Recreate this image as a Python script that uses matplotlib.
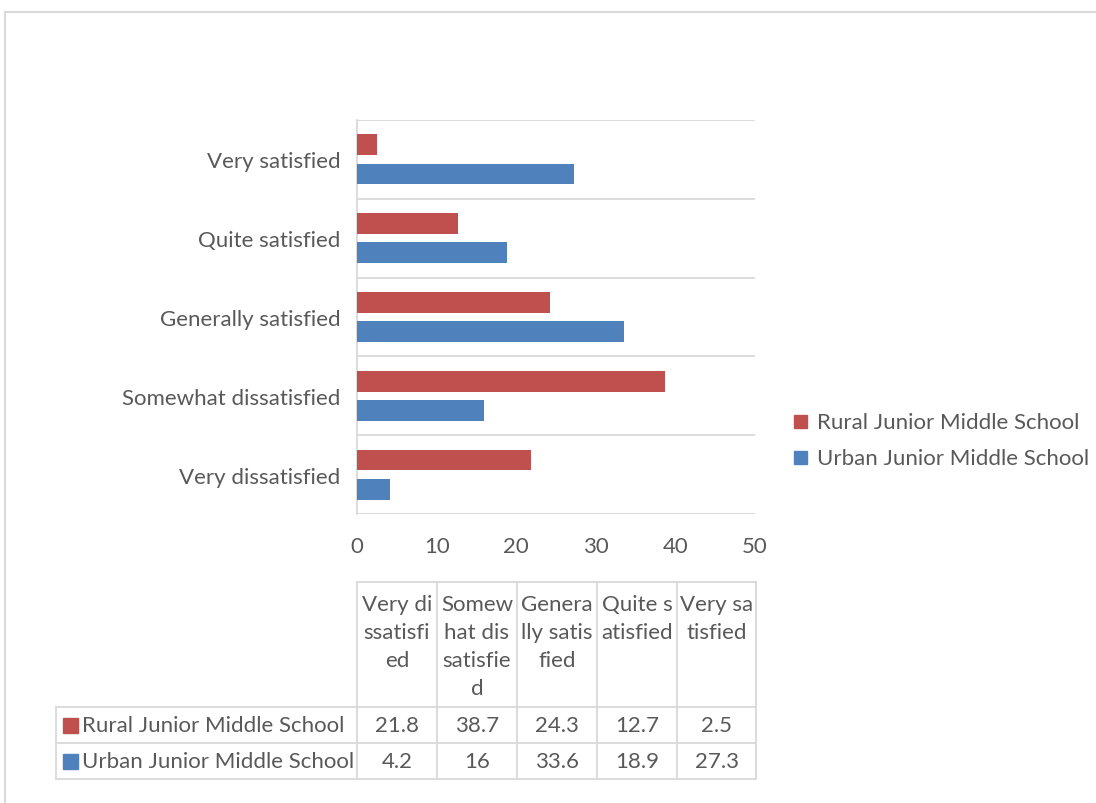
import matplotlib
matplotlib.use("Agg")
import matplotlib.pyplot as plt
from matplotlib.patches import Rectangle
import numpy as np

# ---------------- data ----------------
categories = ["Very dissatisfied", "Somewhat dissatisfied", "Generally satisfied",
              "Quite satisfied", "Very satisfied"]
table_headers = ["Very di\nssatisfi\ned", "Somew\nhat dis\nsatisfie\nd",
                 "Genera\nlly satis\nfied", "Quite s\natisfied", "Very sa\ntisfied"]
series_names = ["Rural Junior Middle School", "Urban Junior Middle School"]
rural = [21.8, 38.7, 24.3, 12.7, 2.5]
urban = [4.2, 16, 33.6, 18.9, 27.3]
x_ticks = [0, 10, 20, 30, 40, 50]

# ---------------- style ----------------
RED = "#C0504D"
BLUE = "#4F81BD"
TXT = "#595959"
GRID = "#D9D9D9"
FONT = "Lato"
FS = 16

plt.rcParams["font.family"] = [FONT, "DejaVu Sans"]

W, H = 1096, 804
fig = plt.figure(figsize=(W / 100, H / 100), dpi=100)
fig.patch.set_facecolor("white")

# overlay axes in pixel coordinates for frame / table / legend
ov = fig.add_axes([0, 0, 1, 1], zorder=0)
ov.set_xlim(0, W)
ov.set_ylim(H, 0)
ov.axis("off")
ov.patch.set_alpha(0)

# chart outer frame
ov.plot([5, 5], [13, H + 5], color=GRID, lw=1.5)
ov.plot([5, W + 5], [13, 13], color=GRID, lw=1.5)

# ---------------- main bar chart ----------------
left_px, right_px, top_px, bot_px = 357, 755, 121, 515
ax = fig.add_axes([left_px / W, 1 - bot_px / H, (right_px - left_px) / W,
                   (bot_px - top_px) / H], zorder=2)
ax.patch.set_alpha(0)
y = np.arange(len(categories))
off = 0.185
hgt = 0.262
ax.barh(y + off, rural, height=hgt, color=RED, zorder=3)
ax.barh(y - off, urban, height=hgt, color=BLUE, zorder=3)
ax.set_xlim(0, 50)
ax.set_ylim(-0.5, len(categories) - 0.5)
for b in np.arange(-0.5, len(categories), 1.0):
    ax.axhline(b, color=GRID, lw=1.3, zorder=1)
ax.set_yticks(y)
ax.set_yticklabels(categories, fontsize=FS, color=TXT)
ax.set_xticks(x_ticks)
ax.set_xticklabels([str(t) for t in x_ticks], fontsize=FS, color=TXT)
ax.tick_params(axis="y", length=0, pad=12)
ax.tick_params(axis="x", length=0, pad=16)
for s in ["top", "right", "bottom"]:
    ax.spines[s].set_visible(False)
ax.spines["left"].set_color(GRID)
ax.spines["left"].set_linewidth(1.3)

# ---------------- legend ----------------
leg_y = [423, 459]
for name, col, yy in zip(series_names, [RED, BLUE], leg_y):
    ov.add_patch(Rectangle((794, yy - 7), 13, 13, color=col))
    ov.text(817, yy, name, fontsize=FS, color=TXT, va="center", ha="left")

# ---------------- data table ----------------
col_x = [56, 357, 437, 517, 597, 677, 756]
row_y = [583, 708, 744, 780]
lc = GRID
lw = 1.3
ov.plot([col_x[1], col_x[-1]], [row_y[0], row_y[0]], color=lc, lw=lw)
for xx in col_x[1:]:
    ov.plot([xx, xx], [row_y[0], row_y[-1]], color=lc, lw=lw)
for yy in row_y[1:]:
    ov.plot([col_x[0], col_x[-1]], [yy, yy], color=lc, lw=lw)
ov.plot([col_x[0], col_x[0]], [row_y[1], row_y[-1]], color=lc, lw=lw)

for i, hdr in enumerate(table_headers):
    cx = (col_x[i + 1] + col_x[i + 2]) / 2
    ov.text(cx, 595, hdr, fontsize=FS, color=TXT, ha="center", va="top",
            linespacing=1.5)

for r, (name, col, vals) in enumerate(zip(series_names, [RED, BLUE], [rural, urban])):
    cy = (row_y[r + 1] + row_y[r + 2]) / 2
    ov.add_patch(Rectangle((63, cy - 7), 15, 15, color=col))
    ov.text(82, cy, name, fontsize=FS, color=TXT, ha="left", va="center")
    for i, v in enumerate(vals):
        cx = (col_x[i + 1] + col_x[i + 2]) / 2
        ov.text(cx, cy, f"{v:g}", fontsize=FS, color=TXT, ha="center", va="center")

fig.savefig("out.png", dpi=100)
